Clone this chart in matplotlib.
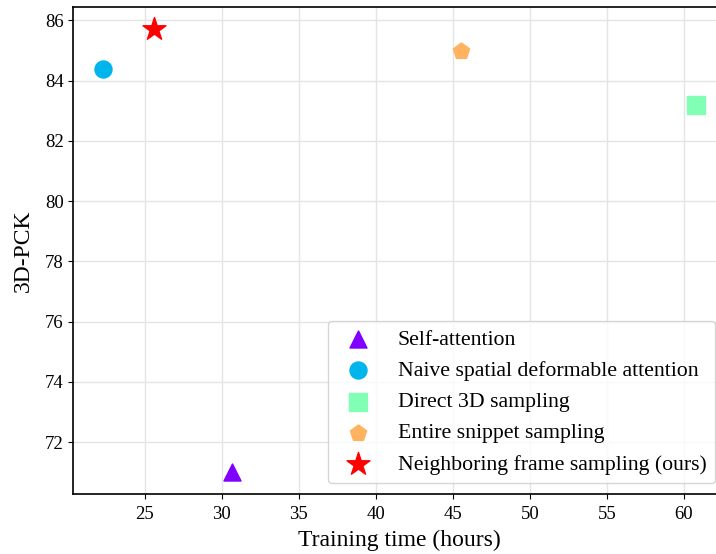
import numpy as np
import matplotlib
matplotlib.use('Agg')
import matplotlib.pyplot as plt

plt.rcParams['font.family'] = ['Liberation Serif', 'DejaVu Serif']
plt.rcParams['mathtext.fontset'] = 'stix'

# data
methods = ['Self-attention',
           'Naive spatial deformable attention',
           'Direct 3D sampling',
           'Entire snippet sampling',
           'Neighboring frame sampling (ours)']
train_hours = [30.7, 22.3, 60.8, 45.5, 25.6]
pck_3d = [71.0, 84.4, 83.2, 85.0, 85.7]
markers = ['^', 'o', 's', 'p', '*']
sizes = [150, 150, 150, 150, 300]

colors = plt.cm.rainbow(np.linspace(0, 1, len(methods)))

fig = plt.figure(figsize=(7.16, 5.54), dpi=100)
ax = fig.add_axes([0.1024, 0.1078, 0.9116, 0.879])

for i in range(len(methods)):
    ax.scatter(train_hours[i], pck_3d[i], s=sizes[i], marker=markers[i],
               color=colors[i], label=methods[i], zorder=3)

ax.grid(True, color='#e4e4e4', linewidth=1.0, zorder=0)
ax.set_axisbelow(True)
for sp in ax.spines.values():
    sp.set_linewidth(1.2)

ax.set_xticks([25, 30, 35, 40, 45, 50, 55, 60])
ax.set_yticks([72, 74, 76, 78, 80, 82, 84, 86])
ax.tick_params(labelsize=13.5)
ax.tick_params(axis='x', pad=5)
ax.set_xlabel('Training time (hours)', fontsize=17, labelpad=5)
ax.set_ylabel('3D-PCK', fontsize=17, labelpad=8)

ax.legend(loc='lower right', fontsize=15.7)

fig.savefig('out.png', dpi=100)
